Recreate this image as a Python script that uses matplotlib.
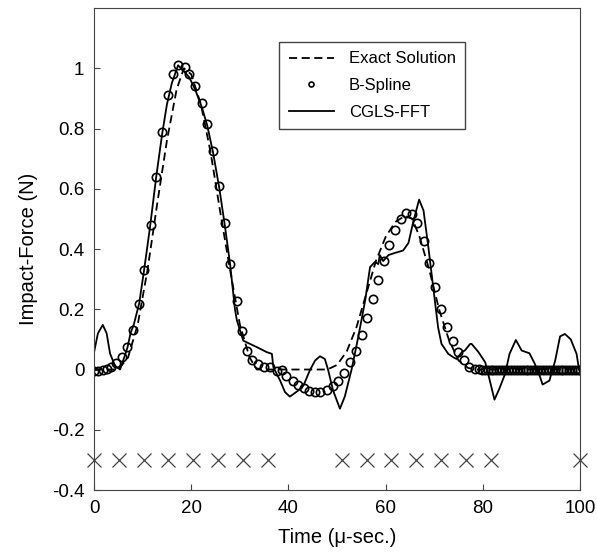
import matplotlib
matplotlib.use("Agg")
import matplotlib.pyplot as plt

plt.rcParams['font.family'] = ['Liberation Sans', 'DejaVu Sans']

# exact solution (dashed)
t_exact = [0, 5, 7, 9, 11, 13, 15, 17, 18.5, 20, 22, 24, 26, 28, 30, 32, 33.5,
           48, 50, 52, 54, 56, 58, 60, 62, 64, 65.5, 67, 69, 71, 73, 75, 77, 79, 100]
f_exact = [0, 0, 0.04, 0.15, 0.33, 0.55, 0.76, 0.93, 1.0, 0.98, 0.88, 0.72, 0.52, 0.33, 0.15, 0.04, 0,
           0, 0.015, 0.06, 0.14, 0.25, 0.36, 0.44, 0.49, 0.51, 0.5, 0.44, 0.33, 0.2, 0.1, 0.03, 0.005, 0, 0]

# B-spline reconstruction (circles)
t_bspl = [0, 0.9, 1.9, 2.7, 3.4, 4.5, 5.7, 6.85, 8.1, 9.26, 10.35, 11.7, 12.8, 13.9, 15.2, 16.3, 17.3,
          18.7, 19.6, 20.8, 22.2, 23.3, 24.5, 25.8, 26.9, 28, 29.4, 30.4, 31.5, 32.6, 33.8, 35, 36.2,
          37.6, 38.6, 39.6, 40.9, 42, 43.2, 44.3, 45.5, 46.6, 47.9, 49.1, 50.3, 51.5, 52.7, 53.9,
          55.1, 56.2, 57.5, 58.4, 59.7, 60.8, 62, 63.1, 64.3, 65.4, 66.5, 67.9, 69, 70.2, 71.5,
          72.6, 73.8, 75, 76.1, 77.2, 78.4,
          79.2, 79.8, 80.4, 81.0, 81.6, 82.2, 82.8, 83.4, 84.0, 84.6, 85.2, 85.8, 86.4, 87.0, 87.6,
          88.2, 88.8, 89.4, 90.0, 90.6, 91.2, 91.8, 92.4, 93.0, 93.6, 94.2, 94.8, 95.4, 96.0, 96.6,
          97.2, 97.8, 98.4, 99.0, 99.6, 100]
f_bspl = [-0.005, -0.005, 0.0, 0.003, 0.008, 0.02, 0.04, 0.074, 0.13, 0.216, 0.33, 0.48, 0.64, 0.79, 0.91, 0.98, 1.01,
          1.005, 0.98, 0.94, 0.885, 0.815, 0.725, 0.61, 0.485, 0.35, 0.227, 0.127, 0.063, 0.03, 0.017, 0.01, 0.008,
          -0.005, 0.0, -0.02, -0.037, -0.05, -0.061, -0.07, -0.073, -0.073, -0.068, -0.055, -0.037, -0.012, 0.024, 0.063,
          0.113, 0.172, 0.233, 0.296, 0.36, 0.415, 0.464, 0.5, 0.52, 0.517, 0.486, 0.426, 0.353, 0.273, 0.2,
          0.14, 0.094, 0.057, 0.03, 0.01, 0.002,
          0.001, 0, 0, 0, 0, 0, 0, 0, 0, 0, 0, 0, 0, 0, 0,
          0, 0, 0, 0, 0, 0, 0, 0, 0, 0, 0, 0, 0, 0, 0,
          0, 0, 0, 0, 0, 0]

# CGLS-FFT reconstruction (solid)
t_cgls = [0, 0.8, 1.8, 2.6, 3.3, 4.3, 5.35, 6, 6.9, 7.5, 8.2, 9.3, 10.3, 11.5, 12.8, 14, 15, 16, 17.3,
          18.5, 19.6, 20.8, 22.2, 23.3, 24.5, 25.8, 26.9, 28, 29, 29.4, 30.7, 32.1, 33.8, 35.5, 36.6,
          36.9, 38.3, 39.3, 40.3, 42, 43.1, 44.4, 45.5, 46.5, 47.5, 48.2, 49.2, 50.6, 51.6, 53, 54.4,
          55.8, 56.8, 57.8, 58.5, 58.8, 59.5, 60.6, 61.9, 63.6, 64.7, 65.6, 66.4, 66.9, 67.8, 68.8,
          69.8, 70.8, 71.5, 72.9, 74.0, 74.6, 75.7, 76.3, 77.4, 77.7, 79.1, 80.5, 81.1, 82.4, 83.4,
          84.6, 85.5, 86.8, 88, 89.6, 90.7, 91.8, 92.3, 93.7, 94.9, 95.9, 96.9, 98.1, 99.3, 99.8]
f_cgls = [0.057, 0.12, 0.148, 0.12, 0.053, 0.013, 0.0, 0.03, 0.074, 0.12, 0.15, 0.22, 0.33, 0.47, 0.64, 0.78, 0.88, 0.95, 1.01,
          0.99, 0.97, 0.93, 0.87, 0.81, 0.72, 0.6, 0.48, 0.35, 0.2, 0.163, 0.096, 0.085, 0.072, 0.058, 0.052,
          0.008, -0.037, -0.075, -0.09, -0.07, -0.053, -0.003, 0.03, 0.044, 0.035, -0.003, -0.07, -0.13, -0.09, 0.0, 0.11,
          0.23, 0.34, 0.357, 0.35, 0.38, 0.36, 0.38, 0.387, 0.395, 0.42, 0.484, 0.534, 0.564, 0.528, 0.406,
          0.273, 0.14, 0.085, 0.052, 0.04, 0.035, 0.058, 0.063, 0.085, 0.085, 0.058, 0.024, -0.014, -0.1, -0.064,
          -0.014, 0.052, 0.098, 0.063, 0.054, 0.019, -0.025, -0.05, -0.037, 0.03, 0.11, 0.118, 0.1, 0.052, 0.0]

# sensor / knot positions shown as crosses
t_knots = [0, 5.1, 10.2, 15.3, 20.4, 25.5, 30.6, 35.7,
           51, 56.1, 61.2, 66.3, 71.4, 76.5, 81.6, 100]
f_knots = [-0.3] * len(t_knots)

fig = plt.figure(figsize=(5.97, 5.54), dpi=100)
ax = fig.add_axes([0.1575, 0.1155, 0.814, 0.87])

ax.plot(t_exact, f_exact, 'k--', lw=1.3, dashes=(4.5, 2.5), label='Exact Solution')
ax.plot(t_bspl, f_bspl, 'o', ms=6, mfc='none', mec='k', mew=1.2, label='B-Spline')
ax.plot(t_cgls, f_cgls, 'k-', lw=1.3, label='CGLS-FFT')
ax.plot(t_knots, f_knots, 'x', color='#444444', ms=10, mew=0.9, clip_on=False)

ax.set_xlim(0, 100)
ax.set_ylim(-0.4, 1.2)
ax.set_xticks([0, 20, 40, 60, 80, 100])
ax.set_yticks([-0.4, -0.2, 0, 0.2, 0.4, 0.6, 0.8, 1])
ax.set_yticklabels(['-0.4', '-0.2', '0', '0.2', '0.4', '0.6', '0.8', '1'])
ax.tick_params(direction='in', labelsize=13.5, length=4, color='#444444', pad=7)
for s in ax.spines.values():
    s.set_color('#444444')

ax.set_xlabel('Time (\u03bc-sec.)', fontsize=14.5, labelpad=8)
ax.set_ylabel('Impact-Force (N)', fontsize=14.5, labelpad=10)

leg = ax.legend(loc='upper right', bbox_to_anchor=(0.763, 0.929), borderaxespad=0,
                fontsize=12, fancybox=False, framealpha=1, edgecolor='#444444',
                handlelength=2.7, handletextpad=0.9, markerscale=0.6,
                borderpad=0.55, labelspacing=0.7)
leg.get_frame().set_linewidth(1.0)

fig.savefig('out.png', dpi=100)
